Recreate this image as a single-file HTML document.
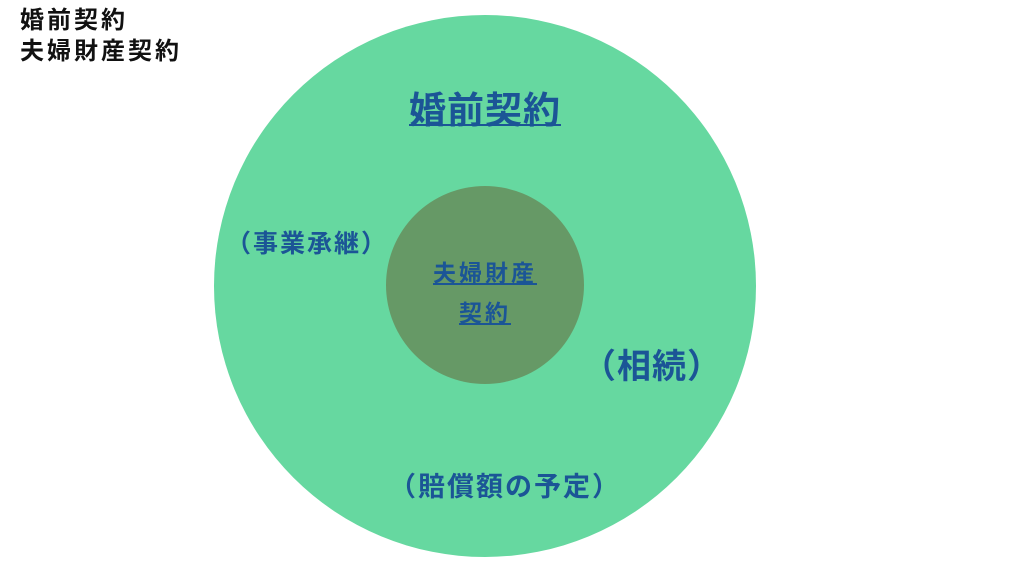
<!DOCTYPE html>
<html><head><meta charset="utf-8"><style>
body{margin:0;width:1024px;height:576px;background:#fff;position:relative;overflow:hidden;font-family:"Liberation Sans","Noto Sans CJK JP",sans-serif;}
.t{position:absolute;white-space:nowrap;font-weight:bold;color:#1b5596;}
</style></head><body>
<div class="t" style="left:20px;top:5px;font-size:24px;line-height:31px;letter-spacing:3px;color:#111;">婚前契約<br>夫婦財産契約</div>
<div style="position:absolute;left:214px;top:15px;width:542px;height:542px;border-radius:50%;background:#66d8a0;"></div>
<div style="position:absolute;left:386px;top:186px;width:198px;height:198px;border-radius:50%;background:#669966;"></div>
<div class="t" style="left:409px;top:80px;font-size:37px;letter-spacing:1px;text-decoration:underline;text-decoration-thickness:2px;">婚前契約</div>
<div class="t" style="left:420px;top:253px;font-size:23px;line-height:40px;letter-spacing:3px;text-align:center;width:130px;text-decoration:underline;">夫婦財産<br>契約</div>
<div class="t" style="left:226px;top:224px;font-size:25px;letter-spacing:2px;">（事業承継）</div>
<div class="t" style="left:582px;top:339px;font-size:34px;letter-spacing:1px;">（相続）</div>
<div class="t" style="left:389px;top:465px;font-size:27px;letter-spacing:2px;">（賠償額の予定）</div>
</body></html>
